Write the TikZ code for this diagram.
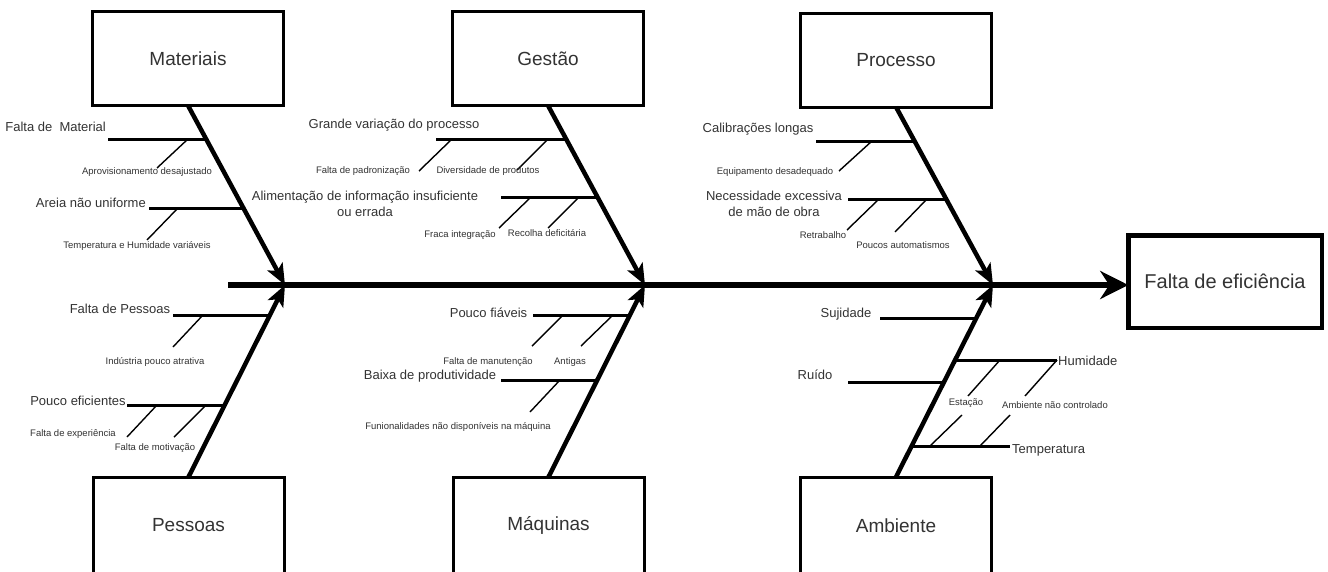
\documentclass[tikz,border=0pt]{standalone}
\usepackage{fontspec}
\setmainfont{Liberation Sans}
\usetikzlibrary{arrows.meta,calc}
\definecolor{txt}{RGB}{51,51,51}
\begin{document}
\begin{tikzpicture}[x=1pt,y=-1pt,
  box/.style={draw=black, line width=3pt, fill=white, minimum width=191pt, minimum height=94pt,
    inner sep=0pt, outer sep=0pt, font=\fontsize{19}{22}\selectfont, text=txt},
  bone/.style={line width=4.5pt, -{Stealth[length=21pt,width=17pt,inset=5pt]}},
  spine/.style={line width=5.5pt, -{Stealth[length=28pt,width=28pt,inset=9pt]}},
  rib/.style={line width=3pt},
  twig/.style={line width=1.4pt},
  cause/.style={inner sep=0pt, font=\fontsize{13}{16}\selectfont, text=txt},
  sub/.style={inner sep=0pt, font=\fontsize{9.5}{11}\selectfont, text=txt}
]
\useasboundingbox (0,0) rectangle (1328,571);
\fill[white] (0,0) rectangle (1328,571);
\clip (0,0) rectangle (1328,571);

% category boxes
\node[box] (mat) at (188,58.5) {Materiais};
\node[box] (ges) at (548,58.5) {Gestão};
\node[box] (pro) at (896,60) {Processo};
\node[box, minimum height=97pt] (pes) at (188.5,525.5) {Pessoas};
\node[box, minimum height=97pt] (maq) at (548.5,525.5) {Máquinas};
\node[box, minimum height=97pt] (amb) at (896,525.5) {Ambiente};
\node[box, line width=4.5pt, minimum width=193.5pt, minimum height=92.5pt,
      font=\fontsize{20}{24}\selectfont] (eff) at (1225,281.5) {Falta de eficiência};

% spine and bones
\coordinate (sp0) at (228,285);
\coordinate (jm) at (285,285);
\coordinate (jg) at (645,285);
\coordinate (jp) at (993,285);
\draw[spine] (sp0) -- (eff.west |- sp0);
\draw[bone] (mat.south) -- (jm);
\draw[bone] (ges.south) -- (jg);
\draw[bone] (pro.south) -- (jp);
\draw[bone] (pes.north) -- (jm);
\draw[bone] (maq.north) -- (jg);
\draw[bone] (amb.north) -- (jp);

% ---------- Materiais ----------
\coordinate (a1) at (205.4,139); \coordinate (a1e) at (108,139);
\draw[rib] (a1) -- (a1e);
\node[cause, anchor=base east] (ta1) at (106,131.5) {Falta de~ Material};
\coordinate (a1t) at (188,139); \coordinate (a1u) at (157,168);
\draw[twig] (a1t) -- (a1u);
\node[sub, anchor=base] (sa1) at (147,174.5) {Aprovisionamento desajustado};

\coordinate (a2) at (243,208); \coordinate (a2e) at (149,208);
\draw[rib] (a2) -- (a2e);
\node[cause, anchor=base east] (ta2) at (146,207.5) {Areia não uniforme};
\coordinate (a2t) at (178,208); \coordinate (a2u) at (147,240);
\draw[twig] (a2t) -- (a2u);
\node[sub, anchor=base] (sa2) at (137,248.5) {Temperatura e Humidade variáveis};

% ---------- Gestão ----------
\coordinate (g1) at (565.4,139); \coordinate (g1e) at (436,139);
\draw[rib] (g1) -- (g1e);
\node[cause, anchor=base] (tg1) at (394,128.5) {Grande variação do processo};
\coordinate (g1t) at (452,139); \coordinate (g1u) at (419,171);
\draw[twig] (g1t) -- (g1u);
\node[sub, anchor=base] (sg1) at (363,173.5) {Falta de padronização};
\coordinate (g1v) at (548,139); \coordinate (g1w) at (517,170);
\draw[twig] (g1v) -- (g1w);
\node[sub, anchor=base] (sg2) at (488,173.5) {Diversidade de produtos};

\coordinate (g2) at (597,197); \coordinate (g2e) at (501,197);
\draw[rib] (g2) -- (g2e);
\node[cause, align=center] (tg2) at (365,204) {Alimentação de informação insuficiente\\ou errada};
\coordinate (g2t) at (531,197); \coordinate (g2u) at (499,228);
\draw[twig] (g2t) -- (g2u);
\node[sub, anchor=base] (sg3) at (460,237.5) {Fraca integração};
\coordinate (g2v) at (579,197); \coordinate (g2w) at (548,228);
\draw[twig] (g2v) -- (g2w);
\node[sub, anchor=base] (sg4) at (547,236.5) {Recolha deficitária};

% ---------- Processo ----------
\coordinate (p1) at (914.5,141); \coordinate (p1e) at (816,141);
\draw[rib] (p1) -- (p1e);
\node[cause, anchor=base] (tp1) at (758,132.5) {Calibrações longas};
\coordinate (p1t) at (872,141); \coordinate (p1u) at (839,171);
\draw[twig] (p1t) -- (p1u);
\node[sub, anchor=base] (sp1) at (775,174.5) {Equipamento desadequado};

\coordinate (p2) at (946,199); \coordinate (p2e) at (848,199);
\draw[rib] (p2) -- (p2e);
\node[cause, align=center] (tp2) at (774,204) {Necessidade excessiva\\de mão de obra};
\coordinate (p2t) at (879,199); \coordinate (p2u) at (847,230);
\draw[twig] (p2t) -- (p2u);
\node[sub, anchor=base] (sp2) at (823,238.5) {Retrabalho};
\coordinate (p2v) at (927,199); \coordinate (p2w) at (895,232);
\draw[twig] (p2v) -- (p2w);
\node[sub, anchor=base] (sp3) at (903,248.5) {Poucos automatismos};

% ---------- Pessoas ----------
\coordinate (e1) at (269.8,315); \coordinate (e1e) at (173,315);
\draw[rib] (e1) -- (e1e);
\node[cause, anchor=base] (te1) at (120,313.5) {Falta de Pessoas};
\coordinate (e1t) at (203,315); \coordinate (e1u) at (173,347);
\draw[twig] (e1t) -- (e1u);
\node[sub, anchor=base] (se1) at (155,364.5) {Indústria pouco atrativa};

\coordinate (e2) at (224,405); \coordinate (e2e) at (127,405);
\draw[rib] (e2) -- (e2e);
\node[cause, anchor=base] (te2) at (78,405.5) {Pouco eficientes};
\coordinate (e2t) at (157,405); \coordinate (e2u) at (127,437);
\draw[twig] (e2t) -- (e2u);
\node[sub, anchor=base] (se2) at (73,436.5) {Falta de experiência};
\coordinate (e2v) at (206,405); \coordinate (e2w) at (174,437);
\draw[twig] (e2v) -- (e2w);
\node[sub, anchor=base] (se3) at (155,450.5) {Falta de motivação};

% ---------- Máquinas ----------
\coordinate (q1) at (629.8,315); \coordinate (q1e) at (533,315);
\draw[rib] (q1) -- (q1e);
\node[cause, anchor=base] (tq1) at (488.5,317.5) {Pouco fiáveis};
\coordinate (q1t) at (563,315); \coordinate (q1u) at (532,346);
\draw[twig] (q1t) -- (q1u);
\node[sub, anchor=base] (sq1) at (488,364.5) {Falta de manutenção};
\coordinate (q1v) at (613,315); \coordinate (q1w) at (581,346);
\draw[twig] (q1v) -- (q1w);
\node[sub, anchor=base] (sq2) at (570,364.5) {Antigas};

\coordinate (q2) at (596.8,380); \coordinate (q2e) at (501,380);
\draw[rib] (q2) -- (q2e);
\node[cause, anchor=base] (tq2) at (430,379.5) {Baixa de produtividade};
\coordinate (q2t) at (560,380); \coordinate (q2u) at (530,412);
\draw[twig] (q2t) -- (q2u);
\node[sub, anchor=base] (sq3) at (458,429.5) {Funionalidades não disponíveis na máquina};

% ---------- Ambiente ----------
\coordinate (b1) at (976.3,318); \coordinate (b1e) at (880,318);
\draw[rib] (b1) -- (b1e);
\node[cause, anchor=base] (tb1) at (846,317.5) {Sujidade};

\coordinate (b2) at (943.8,382); \coordinate (b2e) at (848,382);
\draw[rib] (b2) -- (b2e);
\node[cause, anchor=base] (tb2) at (815,379.5) {Ruído};

\coordinate (b3) at (955,360); \coordinate (b3e) at (1057,360);
\draw[rib] (b3) -- (b3e);
\node[cause, anchor=base west] (tb3) at (1058,365.5) {Humidade};
\coordinate (b3t) at (1000,360); \coordinate (b3u) at (968,396);
\draw[twig] (b3t) -- (b3u);
\node[sub, anchor=base] (sb1) at (966,405.5) {Estação};
\coordinate (b3v) at (1057,360); \coordinate (b3w) at (1025,396);
\draw[twig] (b3v) -- (b3w);
\node[sub, anchor=base] (sb2) at (1055,408.5) {Ambiente não controlado};

\coordinate (b4) at (911.2,446); \coordinate (b4e) at (1010,446);
\draw[rib] (b4) -- (b4e);
\node[cause, anchor=base west] (tb4) at (1012,453.5) {Temperatura};
\coordinate (b4t) at (930,446); \coordinate (b4u) at (962,415);
\draw[twig] (b4t) -- (b4u);
\coordinate (b4v) at (980,446); \coordinate (b4w) at (1010,415);
\draw[twig] (b4v) -- (b4w);
\end{tikzpicture}
\end{document}
